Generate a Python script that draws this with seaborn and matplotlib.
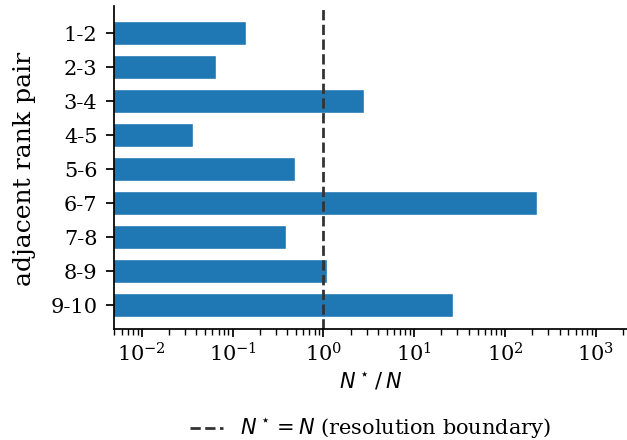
import matplotlib
matplotlib.use("Agg")
import matplotlib.pyplot as plt
import seaborn as sns
import pandas as pd

pairs = ["1-2", "2-3", "3-4", "4-5", "5-6", "6-7", "7-8", "8-9", "9-10"]
ratio = [0.142, 0.065, 2.83, 0.0366, 0.487, 225.0, 0.388, 1.09, 26.5]

sns.set_theme(style="ticks")
plt.rcParams["font.family"] = ["DejaVu Serif"]
plt.rcParams["mathtext.fontset"] = "dejavusans"
plt.rcParams.update({
    "text.color": "black",
    "axes.labelcolor": "black",
    "axes.edgecolor": "black",
    "xtick.color": "black",
    "ytick.color": "black",
})

df = pd.DataFrame({"pair": pairs, "ratio": ratio})

fig = plt.figure(figsize=(6.27, 4.40), dpi=100)
ax = fig.add_axes([0.182, 0.252, 0.818, 0.734])

sns.barplot(data=df, x="ratio", y="pair", orient="h", color="#1f77b4",
            saturation=1, width=0.7, ax=ax)
ax.set_xscale("log")
ax.set_xlim(10 ** -2.305, 10 ** 3.345)
ax.set_ylim(8.7, -0.8)

ax.axvline(1.0, color="#333333", linestyle="--", linewidth=2.0,
           label=r"$N^\star = N$ (resolution boundary)")

ax.set_xlabel(r"$N^\star\,/\,N$", fontsize=15)
ax.set_ylabel("adjacent rank pair", fontsize=18)
ax.yaxis.set_label_coords(-0.152, 0.495)
ax.tick_params(axis="both", labelsize=15)
ax.tick_params(axis="y", length=6, pad=6)
sns.despine(ax=ax)

ax.legend(loc="upper center", bbox_to_anchor=(0.5, -0.215), frameon=False,
          fontsize=15, ncol=1, handlelength=1.6)

fig.savefig("out.png", dpi=100)
